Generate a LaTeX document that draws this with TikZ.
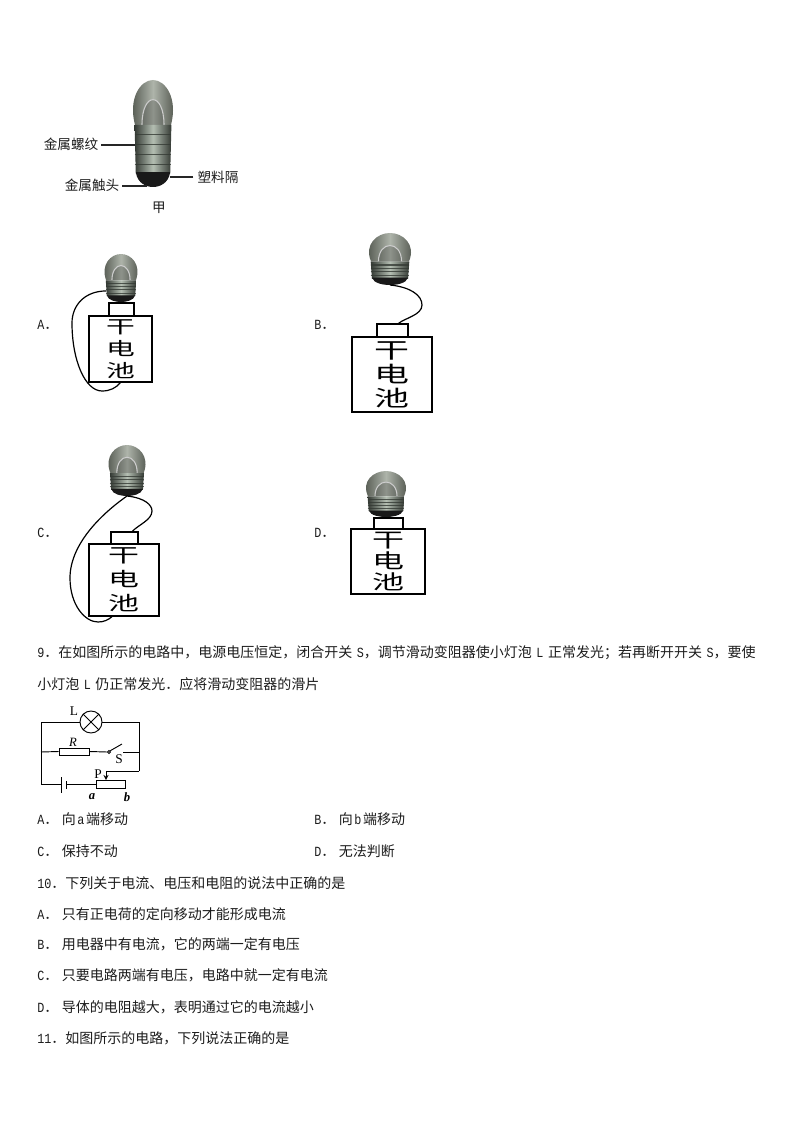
\documentclass[tikz,border=0pt]{standalone}
\usepackage{fontspec}
\usepackage{xcolor}
\usepackage{tikz}
\usetikzlibrary{arrows,positioning,calc}
\setmainfont{Noto Sans CJK SC}
\newfontfamily\latinfont{Liberation Mono}[FakeStretch=0.84]
\newfontfamily\markfont{Liberation Serif}
\newfontfamily\cellfont{Noto Sans CJK SC}[FakeStretch=1.6]
\newcommand{\hw}[1]{{\latinfont #1}}
\newcommand{\hwgap}[1]{\kern3.4pt{\latinfont #1}}
\newcommand{\optgap}{\kern2.6pt}
\newcommand{\cellsize}[2]{\cellfont\fontsize{#1}{#2}\selectfont}
\definecolor{bulbdark}{HTML}{484D45}
\definecolor{bulblight}{HTML}{AEB4AA}
\definecolor{threaddark}{HTML}{343A34}
\definecolor{threadlight}{HTML}{B4BEB2}
\definecolor{inktext}{HTML}{1C1C1C}

\tikzset{
    pics/bulb/.style={code={
        \shade[left color=bulbdark, right color=bulbdark, middle color=bulblight]
            (-.9,#1) .. controls (-1.25,.4*#1) and (-.62,0) .. (0,0)
            .. controls (.62,0) and (1.25,.4*#1) .. (.9,#1) -- cycle;
        \fill[black, opacity=.18] (-.55,#1) .. controls (-.55,.25*#1) and (.55,.25*#1) .. (.55,#1) -- cycle;
        \draw[white!60!gray, line width=0.8pt] (-.55,#1) .. controls (-.55,.25*#1) and (.55,.25*#1) .. (.55,#1);
        \shade[left color=threaddark, right color=threaddark, middle color=threadlight]
            (-.92,#1) -- (.92,#1) -- (.86,.88) -- (-.86,.88) -- cycle;
        \foreach \k in {1,2,3,4}
            \draw[threaddark, line width=0.8pt, opacity=.8] (-.92,{#1+(.88-#1)*\k/5}) -- (.92,{#1+(.88-#1)*\k/5});
        \fill[black!90] (-.86,.86) -- (.86,.86) .. controls (.78,.97) and (.3,1) .. (0,1) .. controls (-.3,1) and (-.78,.97) .. (-.86,.86) -- cycle;
        \coordinate (-foot) at (0,1);
        \coordinate (-side) at (-.9,.77);
    }}
}

\begin{document}
\begin{tikzpicture}[
    x=0.75pt, y=-0.75pt,
    txtline/.style={anchor=west, inner sep=0pt, text=inktext, font=\fontsize{10.5}{12}\selectfont},
    tag/.style={inner sep=0pt, text=inktext, font=\fontsize{10.2}{12}\selectfont},
    cellbox/.style n args={2}{rectangle, draw, thick, inner sep=0pt, align=center, minimum width=#1*0.75pt, minimum height=#2*0.75pt},
    capbox/.style n args={2}{rectangle, draw, thick, inner sep=0pt, minimum width=#1*0.75pt, minimum height=#2*0.75pt},
    wirecurve/.style={draw, line width=0.9pt},
    leader/.style={draw, line width=0.8pt, black!85},
    wire/.style={draw, line width=0.7pt},
    arrow/.style={->, line width=0.7pt, >=stealth},
    pinlabel/.style={inner sep=0pt, font=\fontsize{10}{12}\selectfont\markfont},
    endlabel/.style={inner sep=0pt, font=\fontsize{9.5}{12}\selectfont\markfont\itshape\bfseries}
]
    \useasboundingbox (0,0) rectangle (794,1123);

    % Bulb with its parts named
    \pic (bulbTop) [shift={(153,80)}, xscale=20, yscale=107] {bulb=0.42};
    \coordinate (screwEnd) at (135,145);
    \coordinate (gapEnd) at (170,177);
    \coordinate (tipEnd) at (147,186);
    \node[tag] (screw) at (71,144) {金属螺纹};
    \node[tag] (gap) at (218,177) {塑料隔};
    \node[tag] (tip) at (92,185) {金属触头};
    \node[tag] (jia) at (159,208) {甲};
    \draw[leader] (screw.east)+(3,1) -- (screwEnd);
    \draw[leader] (gap.west)+(-4,0) -- (gapEnd);
    \draw[leader] (tip.east)+(3,1) -- (tipEnd);

    % Option A
    \node[txtline] (labelA) at (37,325) {\hw{A}．};
    \pic (bulbA) [shift={(121,254)}, xscale=16.5, yscale=48] {bulb=0.55};
    \node[cellbox={63}{66}, font=\cellsize{13.5}{16.5}] (cellA) at (120.5,349) {干\\电\\池};
    \node[capbox={25}{13}] (capA) at (121.5,309.5) {};
    \draw[wirecurve] (bulbA-side) .. controls (85,291) and (72,305) .. (72,323)
        .. controls (72,360) and (85,391) .. (102,391) .. controls (110,391) and (116,388) .. (cellA.south);

    % Option B
    \node[txtline] (labelB) at (314,325) {\hw{B}．};
    \pic (bulbB) [shift={(390,233)}, xscale=21, yscale=52] {bulb=0.55};
    \node[cellbox={80}{75}, line width=1.4pt, font=\cellsize{16.4}{18}] (cellB) at (392,374.5) {干\\电\\池};
    \node[capbox={31}{13}] (capB) at (392.5,330.5) {};
    \draw[wirecurve] (bulbB-foot) .. controls (410,287) and (422,295) .. (422,305)
        .. controls (422,315) and (405,318) .. (capB.50);

    % Option C
    \node[txtline] (labelC) at (37,533) {\hw{C}．};
    \pic (bulbC) [shift={(127,445)}, xscale=18.5, yscale=51] {bulb=0.55};
    \node[cellbox={70}{72}, font=\cellsize{14.5}{18}] (cellC) at (124,580) {干\\电\\池};
    \node[capbox={27}{12}] (capC) at (124.5,538) {};
    \draw[wirecurve] (bulbC-foot) .. controls (100,515) and (70,545) .. (70,578)
        .. controls (70,605) and (85,622) .. (98,622) .. controls (104,622) and (108,620) .. (cellC.-108);
    \draw[wirecurve] (bulbC-foot) .. controls (145,498) and (152,505) .. (152,511)
        .. controls (152,520) and (138,525) .. (capC.40);

    % Option D
    \node[txtline] (labelD) at (314,533) {\hw{D}．};
    \pic (bulbD) [shift={(386,471)}, xscale=20, yscale=46] {bulb=0.55};
    \node[cellbox={74}{65}, font=\cellsize{15}{15.8}] (cellD) at (388,561.5) {干\\电\\池};
    \node[capbox={29}{11}] (capD) at (388.5,523.5) {};

    % Question 9
    \node[txtline] (q9a) at (37,653) {\hw{9}．在如图所示的电路中，电源电压恒定，闭合开关\hwgap{S}，调节滑动变阻器使小灯泡\hwgap{L}\kern3.4pt 正常发光；若再断开开关\hwgap{S}，要使};
    \node[txtline] (q9b) at (37,684) {小灯泡\hwgap{L}\kern3.4pt 仍正常发光．应将滑动变阻器的滑片};

    % Circuit
    \node[circle, draw, line width=0.7pt, minimum size=16.5pt, inner sep=0pt] (lamp) at (91,722) {};
    \draw[wire] (lamp.45) -- (lamp.225);
    \draw[wire] (lamp.135) -- (lamp.-45);
    \node[rectangle, draw, line width=0.7pt, minimum width=22.5pt, minimum height=5.2pt, inner sep=0pt] (resistor) at (74,751.5) {};
    \node[circle, draw, line width=0.6pt, minimum size=2.2pt, inner sep=0pt] (pivot) at (109,752) {};
    \node[rectangle, draw, line width=0.7pt, minimum width=21.8pt, minimum height=6pt, inner sep=0pt] (slider) at (110.5,784) {};
    \coordinate (topL) at (41,722);
    \coordinate (topR) at (139,722);
    \coordinate (midL) at (41,752);
    \coordinate (midR) at (139,752);
    \coordinate (botL) at (41,784);
    \coordinate (pinR) at (139,771);
    \coordinate (pin) at (106,780);
    \coordinate (contact) at (123,752);
    \coordinate (blade) at (122,744);
    \coordinate (plateLT) at (61,777);
    \coordinate (plateLB) at (61,793);
    \coordinate (plateST) at (66,781);
    \coordinate (plateSB) at (66,789);
    \coordinate (plateL) at (61,784);
    \coordinate (plateS) at (66,784);
    \draw[wire] (lamp.west) -- (topL) -- (botL) -- (plateL);
    \draw[wire] (lamp.east) -- (topR) -- (pinR);
    \draw[wire] (midL) -- (resistor.west);
    \draw[wire] (resistor.east) -- (pivot.west);
    \draw[wire] (pivot.45) -- (blade);
    \draw[wire] (contact) -- (midR);
    \draw[wire] (plateLT) -- (plateLB);
    \draw[wire] (plateST) -- (plateSB);
    \draw[wire] (plateS) -- (slider.west);
    \draw[arrow] (pinR) -| (pin);
    \node[pinlabel] (markL) at (74,711) {L};
    \node[pinlabel, font=\fontsize{9.5}{12}\selectfont\markfont\itshape] (markR) at (73,742) {R};
    \node[pinlabel] (markS) at (119,759) {S};
    \node[pinlabel] (markP) at (98,774) {P};
    \node[endlabel] (marka) at (92,797) {a};
    \node[endlabel] (markb) at (127,797) {b};

    % Answers and remaining questions
    \node[txtline] (q9A) at (37,819) {\hw{A}．\optgap 向\kern1.2pt\hw{a}\kern1.2pt 端移动};
    \node[txtline] (q9B) at (314,819) {\hw{B}．\optgap 向\kern1.2pt\hw{b}\kern1.2pt 端移动};
    \node[txtline] (q9C) at (37,851) {\hw{C}．\optgap 保持不动};
    \node[txtline] (q9D) at (314,851) {\hw{D}．\optgap 无法判断};
    \node[txtline] (q10) at (37,883) {\hw{10}．下列关于电流、电压和电阻的说法中正确的是};
    \node[txtline] (q10A) at (37,914) {\hw{A}．\optgap 只有正电荷的定向移动才能形成电流};
    \node[txtline] (q10B) at (37,944) {\hw{B}．\optgap 用电器中有电流，它的两端一定有电压};
    \node[txtline] (q10C) at (37,975) {\hw{C}．\optgap 只要电路两端有电压，电路中就一定有电流};
    \node[txtline] (q10D) at (37,1007) {\hw{D}．\optgap 导体的电阻越大，表明通过它的电流越小};
    \node[txtline] (q11) at (37,1038) {\hw{11}．如图所示的电路，下列说法正确的是};
\end{tikzpicture}
\end{document}
